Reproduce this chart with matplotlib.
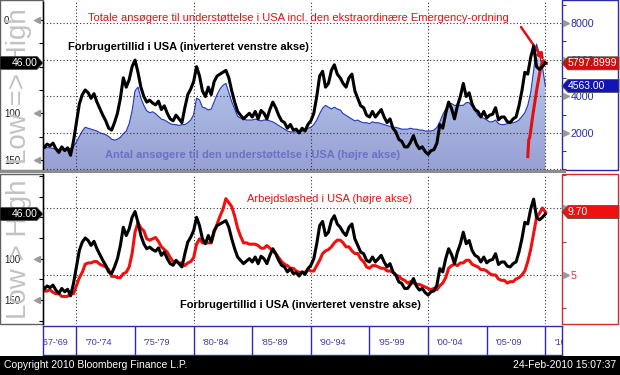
import numpy as np
import matplotlib
matplotlib.use("Agg")
import matplotlib.pyplot as plt
from matplotlib import font_manager
from matplotlib.patches import Rectangle, Polygon
from matplotlib.colors import LinearSegmentedColormap
from matplotlib.ticker import MultipleLocator, FixedLocator

# ---------------- data (quarterly from 1967Q1, last point Feb-2010) ----------------
start_year = 1967.0
confidence = [  # Conference Board consumer confidence (plotted inverted)
    130, 137, 133, 135, 132, 138, 142, 136, 140, 137, 145, 130,
    110, 90, 80, 75, 78, 84, 79, 88, 95, 102, 108, 116,
    118, 110, 100, 84, 62, 72, 64, 50, 43, 56, 72, 82,
    88, 86, 89, 91, 87, 96, 92, 100, 106, 108, 102, 106,
    110, 94, 80, 74, 66, 50, 60, 76, 82, 72, 80, 66,
    60, 58, 56, 54, 62, 76, 88, 98, 102, 106, 103, 100,
    104, 98, 106, 97, 100, 106, 96, 88, 94, 102, 108, 110,
    116, 112, 118, 117, 121, 116, 119, 112, 108, 100, 82, 60,
    55, 72, 68, 54, 48, 58, 62, 68, 72, 62, 58, 76,
    84, 92, 94, 102, 104, 98, 104, 100, 96, 104, 110, 106,
    116, 120, 128, 130, 136, 136, 131, 124, 133, 138, 136, 141,
    144, 140, 139, 132, 112, 116, 100, 88, 95, 106, 92, 82,
    68, 82, 78, 90, 96, 98, 104, 98, 105, 102, 101, 94,
    107, 104, 104, 109, 110, 106, 104, 92, 76, 56, 58, 40,
    28, 50, 53, 50, 46.00]
claims = [  # continuing jobless claims, thousands
    1100, 1150, 1200, 1180, 1150, 1120, 1100, 1100, 1080, 1100, 1150, 1250,
    1500, 1800, 2100, 2300, 2250, 2200, 2150, 2100, 2000, 1950, 1900, 1800,
    1650, 1600, 1650, 1750, 1950, 2100, 2500, 3200, 4300, 4500, 3900, 3500,
    3200, 3100, 3150, 3050, 2900, 2750, 2700, 2600, 2500, 2450, 2450, 2400,
    2450, 2450, 2550, 2700, 3000, 3900, 3800, 3400, 3350, 3250, 3300, 3700,
    4100, 4400, 4600, 4700, 4200, 3700, 3300, 2900, 2800, 2750, 2700, 2700,
    2700, 2750, 2700, 2650, 2700, 2700, 2650, 2600, 2500, 2400, 2300, 2200,
    2100, 2050, 2050, 2050, 2100, 2100, 2150, 2250, 2300, 2450, 2700, 3050,
    3350, 3500, 3400, 3300, 3400, 3300, 3250, 3050, 2950, 2850, 2750, 2650,
    2700, 2600, 2550, 2550, 2500, 2600, 2550, 2550, 2500, 2450, 2400, 2350,
    2300, 2300, 2250, 2200, 2200, 2200, 2250, 2200, 2200, 2150, 2150, 2100,
    2100, 2100, 2150, 2300, 2600, 3000, 3300, 3600, 3600, 3500, 3500, 3500,
    3500, 3650, 3650, 3450, 3200, 2950, 2850, 2800, 2700, 2600, 2600, 2700,
    2500, 2450, 2450, 2500, 2550, 2550, 2600, 2700, 2900, 3100, 3500, 4200,
    5400, 6850, 6300, 5600, 4563.00]
unemployment = [  # US unemployment rate, %
    3.8, 3.8, 3.8, 3.9, 3.7, 3.6, 3.6, 3.4, 3.4, 3.4, 3.6, 3.6,
    4.2, 4.8, 5.2, 5.8, 5.9, 5.9, 6.0, 6.0, 5.8, 5.7, 5.6, 5.4,
    4.9, 4.9, 4.8, 4.8, 5.1, 5.2, 5.6, 6.6, 8.2, 8.9, 8.5, 8.3,
    7.7, 7.6, 7.7, 7.8, 7.5, 7.1, 6.9, 6.7, 6.3, 6.0, 6.0, 5.9,
    5.9, 5.7, 5.9, 6.0, 6.3, 7.3, 7.7, 7.4, 7.4, 7.4, 7.4, 8.2,
    8.8, 9.4, 9.9, 10.7, 10.4, 10.1, 9.4, 8.5, 7.9, 7.4, 7.4, 7.3,
    7.3, 7.3, 7.2, 7.0, 7.0, 7.2, 7.0, 6.8, 6.6, 6.3, 6.0, 5.8,
    5.7, 5.5, 5.5, 5.3, 5.2, 5.2, 5.2, 5.4, 5.3, 5.3, 5.7, 6.1,
    6.6, 6.8, 6.9, 7.1, 7.4, 7.6, 7.6, 7.4, 7.1, 7.1, 6.8, 6.6,
    6.6, 6.2, 6.0, 5.6, 5.5, 5.7, 5.7, 5.6, 5.5, 5.5, 5.3, 5.3,
    5.2, 5.0, 4.9, 4.7, 4.6, 4.4, 4.5, 4.4, 4.3, 4.3, 4.2, 4.1,
    4.0, 3.9, 4.0, 3.9, 4.2, 4.4, 4.8, 5.5, 5.7, 5.8, 5.7, 5.9,
    5.9, 6.1, 6.1, 5.8, 5.7, 5.6, 5.4, 5.4, 5.3, 5.1, 5.0, 5.0,
    4.7, 4.6, 4.6, 4.4, 4.5, 4.5, 4.7, 4.8, 5.0, 5.3, 6.0, 6.9,
    8.1, 9.3, 9.6, 10.0, 9.70]
emergency_start = 2008.5   # monthly series incl. Emergency programme
claims_incl_emergency = [700, 1600, 1750, 2100, 2500, 2900, 3250, 3600, 3950, 4300,
                         4600, 4900, 5200, 5500, 5700, 5900, 5950, 5850, 5800, 5797.8999]
period_labels = ["'67-'69", "'70-'74", "'75-'79", "'80-'84", "'85-'89",
                 "'90-'94", "'95-'99", "'00-'04", "'05-'09", "'10-'14"]
period_edges = [1966.3, 1970, 1975, 1980, 1985, 1990, 1995, 2000, 2005, 2010, 2015]

# ---------------- fonts ----------------
avail = {f.name for f in font_manager.fontManager.ttflist}
NARROW = "Liberation Sans Narrow" if "Liberation Sans Narrow" in avail else "Liberation Sans"
IS_NARROW = NARROW == "Liberation Sans Narrow"
plt.rcParams["font.family"] = [NARROW, "DejaVu Sans"]
TXT = 9.6 if IS_NARROW else 8.0
TICK = 7.5 if IS_NARROW else 6.5

W, H = 620, 375
fig = plt.figure(figsize=(W / 100, H / 100), dpi=100)
fig.patch.set_facecolor("white")


def box(x0, y0, x1, y1):
    return [x0 / W, 1 - y1 / H, (x1 - x0) / W, (y1 - y0) / H]


XMIN, XMAX = 1967.15, 2011.42
xq = start_year + np.arange(len(confidence)) * 0.25
xe = emergency_start + np.arange(len(claims_incl_emergency)) / 12.0
DOT = (0, (1, 2))

# background boxes
for (x0, y0, x1, y1, ec) in [(0, 0, 43, 170, "#606060"), (0, 174, 43, 324, "#606060"),
                             (562, 0, 618, 170, "#2a2aa8"), (562, 174, 618, 324, "#d42a2a")]:
    fig.add_artist(Rectangle((x0 / W, 1 - y1 / H), (x1 - x0) / W, (y1 - y0) / H,
                             transform=fig.transFigure, fc="white", ec=ec, lw=1.0, zorder=0))

# ================= TOP PANEL =================
ax_t = fig.add_axes(box(43, 2, 562, 170))
ax_tr = ax_t.twinx()
ax_t.set_zorder(ax_tr.get_zorder() + 1)
ax_t.patch.set_visible(False)
ax_tr.patch.set_visible(False)

ax_t.set_xlim(XMIN, XMAX)
ax_t.set_ylim(160.8, -19.3)
ax_tr.set_ylim(-33, 9150)

# gradient-filled claims area
cmap = LinearSegmentedColormap.from_list("cl", ["#98a0d4", "#a9b8e2", "#c4d6f2"])
fb = ax_tr.fill_between(xq, claims, -33, facecolor="none", edgecolor="none")
grad = np.linspace(0, 1, 256).reshape(-1, 1)
im = ax_tr.imshow(grad, extent=[XMIN, XMAX, -33, 7000], origin="lower",
                  aspect="auto", cmap=cmap, zorder=1)
im.set_clip_path(fb.get_paths()[0], transform=ax_tr.transData)
ax_tr.set_xlim(XMIN, XMAX)
ax_tr.set_ylim(-33, 9150)
ax_tr.plot(xq, claims, color="#2436c0", lw=0.8, zorder=2)

for v in [0, 2000, 4000, 6000, 8000]:
    ax_tr.axhline(v, color="#303030", lw=0.8, ls=DOT, zorder=3)
for yr in [1970, 1980, 1990, 2000, 2010]:
    ax_tr.axvline(yr, color="#303030", lw=0.8, ls=DOT, zorder=3)

ax_tr.plot(xe, claims_incl_emergency, color="#e01010", lw=2.2, zorder=4)
ax_t.plot(xq, confidence, color="black", lw=2.2, zorder=3)

# ================= BOTTOM PANEL =================
ax_b = fig.add_axes(box(43, 174, 562, 324))
ax_br = ax_b.twinx()
ax_b.set_zorder(ax_br.get_zorder() + 1)
ax_b.patch.set_visible(False)
ax_br.patch.set_visible(False)
ax_b.set_xlim(XMIN, XMAX)
ax_b.set_ylim(179, -2.4)
ax_br.set_ylim(1.34, 12.54)
for v in [5, 10]:
    ax_br.axhline(v, color="#303030", lw=0.8, ls=DOT, zorder=1)
for yr in [1970, 1980, 1990, 2000, 2010]:
    ax_br.axvline(yr, color="#303030", lw=0.8, ls=DOT, zorder=1)
ax_br.plot(xq, unemployment, color="#f01010", lw=2.2, zorder=2)
ax_b.plot(xq, confidence, color="black", lw=2.2, zorder=3)

# ---------------- axes styling ----------------
for a in (ax_t, ax_tr, ax_b, ax_br):
    for s in a.spines.values():
        s.set_visible(False)
    a.tick_params(axis="x", bottom=False, labelbottom=False, top=False)
for a in (ax_t, ax_b):
    a.spines["left"].set_visible(True)
    a.spines["left"].set_color("black")
    a.spines["left"].set_linewidth(1.0)

ax_t.yaxis.set_major_locator(FixedLocator([0, 100, 150]))
ax_t.yaxis.set_minor_locator(MultipleLocator(25))
ax_b.yaxis.set_major_locator(FixedLocator([100, 150]))
ax_b.yaxis.set_minor_locator(MultipleLocator(25))
for a in (ax_t, ax_b):
    a.tick_params(axis="y", which="both", direction="out", length=3, width=0.8,
                  color="black", labelsize=TICK + 0.5, labelcolor="#202020", pad=25)
    for lbl in a.get_yticklabels():
        lbl.set_ha("left")

ax_tr.yaxis.set_major_locator(FixedLocator([2000, 4000, 6000, 8000]))
ax_tr.yaxis.set_minor_locator(MultipleLocator(1000))
ax_tr.tick_params(axis="y", which="both", direction="out", length=3, width=0.8,
                  color="#404040", labelsize=TICK + 1.2, labelcolor="#2a2ab0", pad=3)
ax_br.yaxis.set_major_locator(FixedLocator([5]))
ax_br.yaxis.set_minor_locator(MultipleLocator(2.5))
ax_br.tick_params(axis="y", which="both", direction="out", length=3, width=0.8,
                  color="#d03030", labelsize=TICK + 1.2, labelcolor="#e03030", pad=3)

# grey tick arrows at labelled ticks
for a, vals in [(ax_t, [0, 100, 150]), (ax_b, [100, 150])]:
    a.plot([-0.012] * len(vals), vals, ls="none", marker="<", ms=4, color="#9a9a9a",
           transform=a.get_yaxis_transform(), clip_on=False, zorder=5)
for a, vals in [(ax_tr, [2000, 4000, 6000, 8000]), (ax_br, [5, 10])]:
    a.plot([1.008] * len(vals), vals, ls="none", marker=">", ms=4, color="#9a9a9a",
           transform=a.get_yaxis_transform(), clip_on=False, zorder=5)

# shadow bar between panels
fig.add_artist(Rectangle((0, 1 - 173 / H), 566 / W, 3.5 / H, transform=fig.transFigure,
                         fc="#8c8c8c", ec="none", zorder=6))

# ---------------- vertical "Low => High" labels ----------------
fig.text(19 / W, 1 - 86 / H, "Low => High", rotation=90, ha="center", va="center",
         fontsize=20, color="#c2c2c2", family=["Liberation Sans", "DejaVu Sans"], zorder=1)
fig.text(19 / W, 1 - 249 / H, "Low > High", rotation=90, ha="center", va="center",
         fontsize=20, color="#c2c2c2", family=["Liberation Sans", "DejaVu Sans"], zorder=1)


# ---------------- value tags ----------------
def tag(ax, value, text, color, side):
    ydisp = ax.transData.transform((ax.get_xlim()[0], value))[1]
    yc = ydisp / (fig.dpi * fig.get_figheight()) * H  # px from bottom
    h = 6.5
    if side == "left":
        pts = [(0, yc - h), (37, yc - h), (43, yc), (37, yc + h), (0, yc + h)]
        tx, ha = 38, "right"
    else:
        pts = [(562, yc), (568, yc + h), (619, yc + h), (619, yc - h), (568, yc - h)]
        tx, ha = 568, "left"
    pts = [(px / W, py / H) for px, py in pts]
    fig.add_artist(Polygon(pts, closed=True, transform=fig.transFigure, fc=color,
                           ec="#505050", lw=0.6, zorder=8))
    fig.text(tx / W, yc / H, text, ha=ha, va="center", color="white",
             fontsize=TICK + 1, zorder=9)


tag(ax_t, confidence[-1], f"{confidence[-1]:.2f}", "black", "left")
tag(ax_b, confidence[-1], f"{confidence[-1]:.2f}", "black", "left")
tag(ax_tr, claims_incl_emergency[-1], f"{claims_incl_emergency[-1]:.4f}", "#d00c0c", "right")
tag(ax_tr, claims[-1], f"{claims[-1]:.2f}", "#1414b4", "right")
tag(ax_br, unemployment[-1], f"{unemployment[-1]:.2f}", "#f01010", "right")

# ---------------- annotations ----------------
ax_t.text(0.087, 0.905, "Totale ansøgere til understøttelse i USA incl. den ekstraordinære Emergency-ordning",
          transform=ax_t.transAxes, color="#e01010", fontsize=TXT, ha="left", va="center", zorder=6)
ax_t.text(0.048, 0.73, "Forbrugertillid i USA (inverteret venstre akse)", transform=ax_t.transAxes,
          color="black", fontsize=TXT, fontweight="bold", ha="left", va="center", zorder=6)
ax_t.text(0.119, 0.09, "Antal ansøgere til den understøttelse i USA (højre akse)", transform=ax_t.transAxes,
          color="#6a72c6", fontsize=TXT, fontweight="bold", ha="left", va="center", zorder=6)
ax_b.text(0.393, 0.83, "Arbejdsløshed i USA (højre akse)", transform=ax_b.transAxes,
          color="#e81010", fontsize=TXT, ha="left", va="center", zorder=6)
ax_b.text(0.264, 0.127, "Forbrugertillid i USA (inverteret venstre akse)", transform=ax_b.transAxes,
          color="black", fontsize=TXT, fontweight="bold", ha="left", va="center", zorder=6)
ax_tr.annotate("", xy=(xe[-1], claims_incl_emergency[-1]), xycoords="data",
               xytext=(0.921, 0.851), textcoords="axes fraction",
               arrowprops=dict(arrowstyle="-|>", color="#e01010", lw=1.8,
                               mutation_scale=9, shrinkA=0, shrinkB=3), zorder=7)

# ---------------- date band ----------------
ax_x = fig.add_axes(box(43, 326, 562, 355))
ax_x.set_xlim(XMIN, XMAX)
ax_x.set_ylim(0, 1)
ax_x.set_xticks([])
ax_x.set_yticks([])
for s in ax_x.spines.values():
    s.set_color("#2a2ab0")
    s.set_linewidth(1.0)
for e in period_edges[1:-1]:
    ax_x.axvline(e, color="#2a2ab0", lw=1.0)
for lab, a0 in zip(period_labels, period_edges[:-1]):
    ax_x.text(a0 + 0.75, 0.42, lab, ha="left", va="center",
              color="#3a3aa8", fontsize=TICK, clip_on=True)

# ---------------- footer ----------------
fig.add_artist(Rectangle((0, 0), 1, 19 / H, transform=fig.transFigure, fc="black",
                         ec="none", zorder=5))
fig.text(4 / W, 9.5 / H, "Copyright 2010 Bloomberg Finance L.P.", color="white",
         fontsize=TXT - 0.5, ha="left", va="center", zorder=6)
fig.text(616 / W, 9.5 / H, "24-Feb-2010 15:07:37", color="white",
         fontsize=TXT - 0.5, ha="right", va="center", zorder=6)

fig.savefig("out.png", dpi=100, facecolor="white")
